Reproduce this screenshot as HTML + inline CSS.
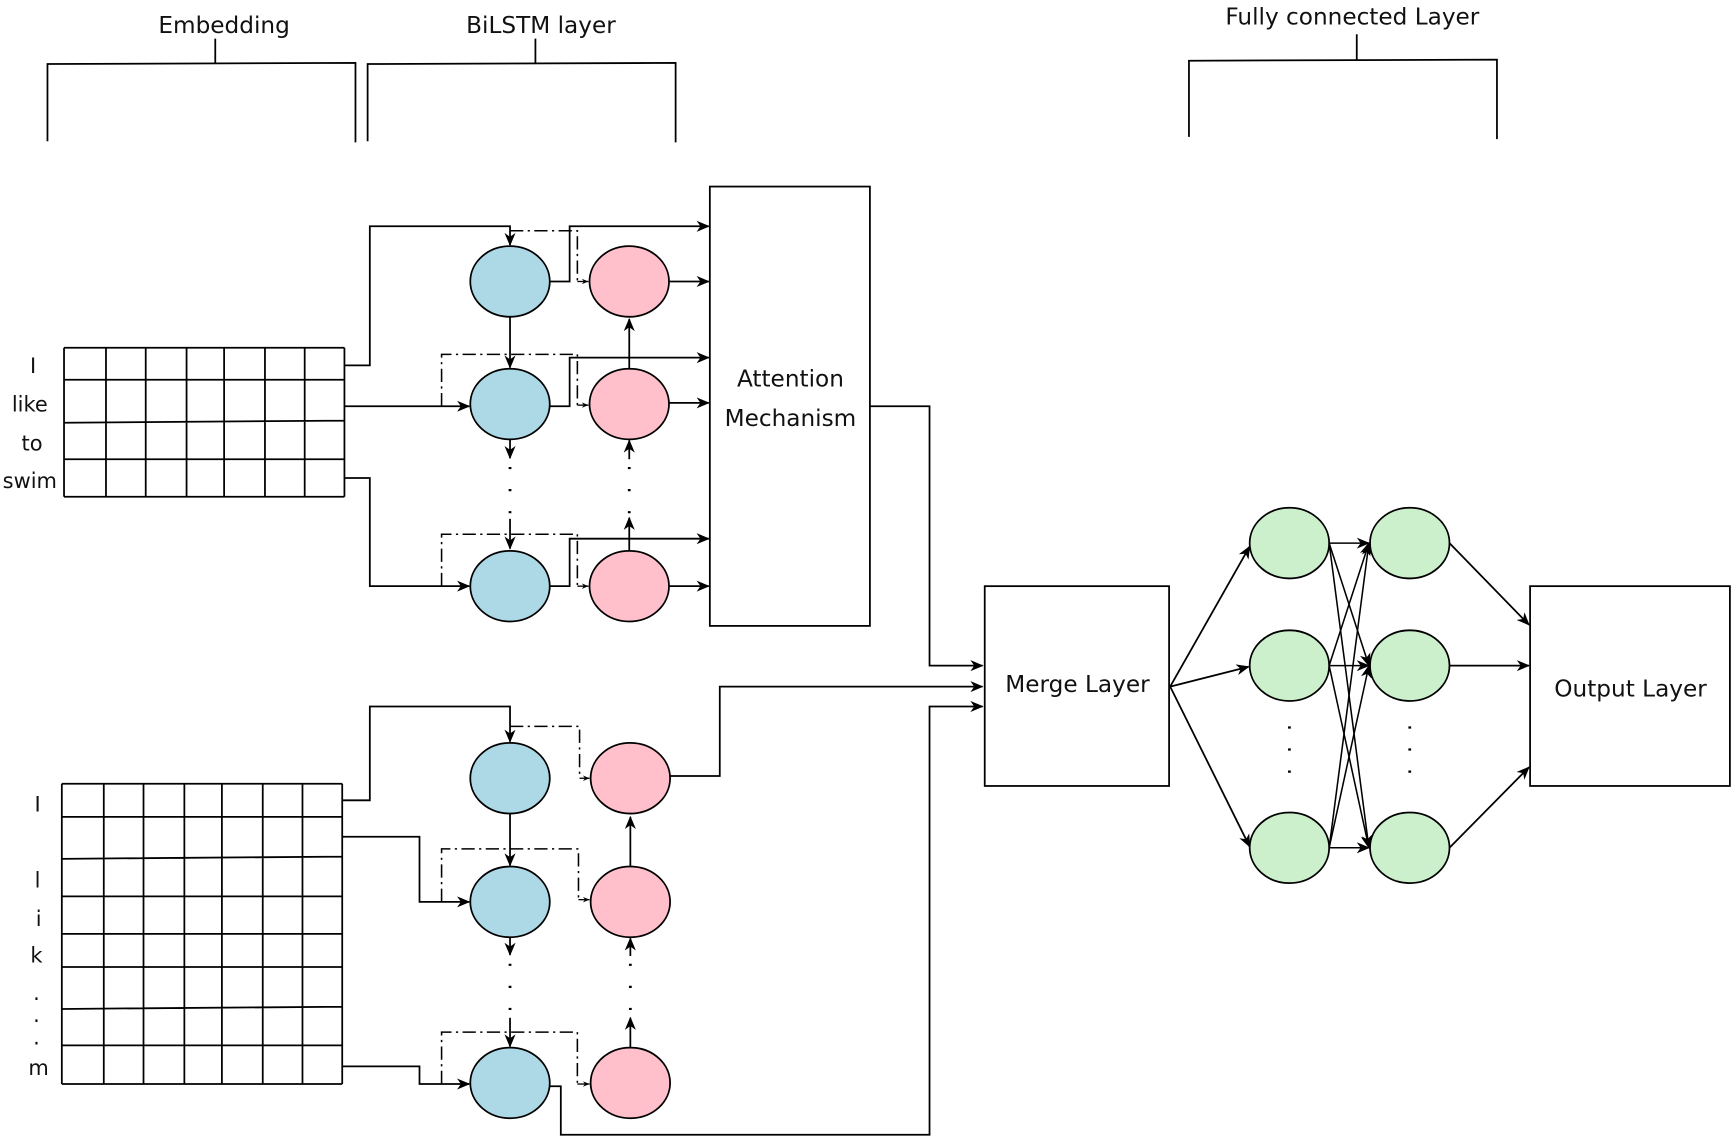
<!DOCTYPE html>
<html><head><meta charset="utf-8"><style>
html,body{margin:0;padding:0;background:#fff;}
svg{display:block;}
text{font-family:"DejaVu Sans","Liberation Sans",sans-serif;fill:#111;}
</style></head><body>
<svg width="1731" height="1137" viewBox="0 0 1568 1030" preserveAspectRatio="none" xmlns="http://www.w3.org/2000/svg">
<defs>
<marker id="a" markerWidth="12" markerHeight="10" refX="11" refY="5" orient="auto" markerUnits="userSpaceOnUse"><path d="M0,0 L12,5 L0,10 L3.5,5z" fill="#000"/></marker>
<marker id="s" markerWidth="6" markerHeight="5" refX="6" refY="2.5" orient="auto" markerUnits="userSpaceOnUse"><path d="M0,0 L6,2.5 L0,5 L2,2.5z" fill="#000"/></marker>
</defs>
<g stroke="#000" stroke-width="1.6" fill="none">
<path d="M43,128 L43,58 L322,57 L322,129 M195,35 L195,57"/>
<path d="M333,128 L333,58 L612,57 L612,129 M485,35 L485,57"/>
<path d="M1077,124 L1077,55 L1356,54 L1356,126 M1229,31 L1229,54"/>
<path d="M58,315 H312 M58,344 H312 M58,383 L312,381 M58,416 H312 M58,450 H312 M58,315 V450 M96,315 V450 M132,315 V450 M169,315 V450 M203,315 V450 M240,315 V450 M276,315 V450 M312,315 V450"/>
<path d="M56,710 H310 M56,740 H310 M56,778 L310,776 M56,812 H310 M56,846 H310 M56,876 H310 M56,914 L310,912 M56,947 H310 M56,982 H310 M56,710 V982 M94,710 V982 M130,710 V982 M167,710 V982 M201,710 V982 M238,710 V982 M274,710 V982 M310,710 V982"/>
<rect x="643" y="169" width="145" height="398"/>
<rect x="892" y="531" width="167" height="181"/>
<rect x="1386" y="531" width="181" height="181"/>
</g>
<g stroke="#000" stroke-width="1.6">
<g fill="#add8e6"><ellipse cx="462" cy="255" rx="36" ry="32"/><ellipse cx="462" cy="366" rx="36" ry="32"/><ellipse cx="462" cy="531" rx="36" ry="32"/>
<ellipse cx="462" cy="705" rx="36" ry="32"/><ellipse cx="462" cy="817" rx="36" ry="32"/><ellipse cx="462" cy="981" rx="36" ry="32"/></g>
<g fill="#ffc0cb"><ellipse cx="570" cy="255" rx="36" ry="32"/><ellipse cx="570" cy="366" rx="36" ry="32"/><ellipse cx="570" cy="531" rx="36" ry="32"/>
<ellipse cx="571" cy="705" rx="36" ry="32"/><ellipse cx="571" cy="817" rx="36" ry="32"/><ellipse cx="571" cy="981" rx="36" ry="32"/></g>
<g fill="#ccefcc"><ellipse cx="1168" cy="492" rx="36" ry="32"/><ellipse cx="1168" cy="603" rx="36" ry="32"/><ellipse cx="1168" cy="768" rx="36" ry="32"/>
<ellipse cx="1277" cy="492" rx="36" ry="32"/><ellipse cx="1277" cy="603" rx="36" ry="32"/><ellipse cx="1277" cy="768" rx="36" ry="32"/></g>
</g>
<g stroke="#000" stroke-width="1.6" fill="none">
<path d="M312,331 H335 V205 H462 V222" marker-end="url(#a)"/>
<path d="M312,368 H425" marker-end="url(#a)"/>
<path d="M312,433 H335 V531 H425" marker-end="url(#a)"/>
<path d="M462,287 V333" marker-end="url(#a)"/>
<path d="M462,398 V415" marker-end="url(#a)"/>
<path d="M462,470 V497" marker-end="url(#a)"/>
<path d="M570,334 V289" marker-end="url(#a)"/>
<path d="M570,416 V399" marker-end="url(#a)"/>
<path d="M570,499 V469" marker-end="url(#a)"/>
<path d="M498,255 H516 V205 H642" marker-end="url(#a)"/>
<path d="M498,368 H516 V324 H642" marker-end="url(#a)"/>
<path d="M498,531 H516 V488 H642" marker-end="url(#a)"/>
<path d="M606,255 H642" marker-end="url(#a)"/>
<path d="M606,365 H642" marker-end="url(#a)"/>
<path d="M606,531 H642" marker-end="url(#a)"/>
<path d="M788,368 H842 V603 H890" marker-end="url(#a)"/>
<path d="M310,725 H335 V640 H462 V672" marker-end="url(#a)"/>
<path d="M310,758 H380 V817 H425" marker-end="url(#a)"/>
<path d="M310,966 H380 V982 H425" marker-end="url(#a)"/>
<path d="M462,737 V784" marker-end="url(#a)"/>
<path d="M462,849 V865" marker-end="url(#a)"/>
<path d="M462,922 V948" marker-end="url(#a)"/>
<path d="M571,785 V740" marker-end="url(#a)"/>
<path d="M571,866 V850" marker-end="url(#a)"/>
<path d="M571,949 V922" marker-end="url(#a)"/>
<path d="M607,703 H652 V622 H890" marker-end="url(#a)"/>
<path d="M498,984 H508 V1028 H842 V640 H890" marker-end="url(#a)"/>
<path d="M1060,622 L1132,495" marker-end="url(#a)"/>
<path d="M1060,622 L1131,604" marker-end="url(#a)"/>
<path d="M1060,622 L1132,767" marker-end="url(#a)"/>
<g stroke-width="1.4">
<path d="M1204,492 L1240,492" marker-end="url(#a)"/>
<path d="M1204,492 L1240,603" marker-end="url(#a)"/>
<path d="M1204,492 L1240,768" marker-end="url(#a)"/>
<path d="M1204,603 L1240,492" marker-end="url(#a)"/>
<path d="M1204,603 L1240,603" marker-end="url(#a)"/>
<path d="M1204,603 L1240,768" marker-end="url(#a)"/>
<path d="M1204,768 L1240,492" marker-end="url(#a)"/>
<path d="M1204,768 L1240,603" marker-end="url(#a)"/>
<path d="M1204,768 L1240,768" marker-end="url(#a)"/>
</g>
<path d="M1313,492 L1385,566" marker-end="url(#a)"/>
<path d="M1313,603 L1385,603" marker-end="url(#a)"/>
<path d="M1313,768 L1385,695" marker-end="url(#a)"/>
</g>
<g stroke="#000" stroke-width="2.5" fill="none" stroke-dasharray="2,18">
<path d="M462,423 V465"/><path d="M570,423 V465"/>
<path d="M462,873 V918"/><path d="M571,873 V918"/>
<path d="M1168,658 V700"/><path d="M1277,658 V700"/>
</g>
<g stroke="#000" stroke-width="1.4" fill="none" stroke-dasharray="12,4,2,4">
<path d="M462,209 H523 V255"/>
<path d="M400,368 V321 H523 V367"/>
<path d="M400,531 V484 H523 V531"/>
<path d="M462,658 H525 V705"/>
<path d="M400,817 V769 H524 V815"/>
<path d="M400,982 V935 H523 V982"/>
</g>
<g stroke="#000" stroke-width="1.2" fill="none">
<path d="M523,255 H533" marker-end="url(#s)"/>
<path d="M523,367 H533" marker-end="url(#s)"/>
<path d="M523,531 H533" marker-end="url(#s)"/>
<path d="M525,705 H534" marker-end="url(#s)"/>
<path d="M524,815 H534" marker-end="url(#s)"/>
<path d="M523,982 H534" marker-end="url(#s)"/>
</g>
<g font-size="21" text-anchor="middle">
<text x="203" y="30">Embedding</text>
<text x="490" y="30">BiLSTM layer</text>
<text x="1225" y="22">Fully connected Layer</text>
<text x="716" y="350">Attention</text>
<text x="716" y="386">Mechanism</text>
<text x="976" y="627">Merge Layer</text>
<text x="1477" y="631">Output Layer</text>
</g>
<g font-size="19" text-anchor="middle">
<text x="30" y="338">I</text>
<text x="27" y="373">like</text>
<text x="29" y="408">to</text>
<text x="27" y="442">swim</text>
<text x="34" y="735">I</text>
<text x="34" y="804">l</text>
<text x="35" y="839">i</text>
<text x="33" y="872">k</text>
<text x="33" y="906">.</text>
<text x="33" y="926">.</text>
<text x="33" y="946">.</text>
<text x="35" y="974">m</text>
</g>
</svg>
</body></html>
